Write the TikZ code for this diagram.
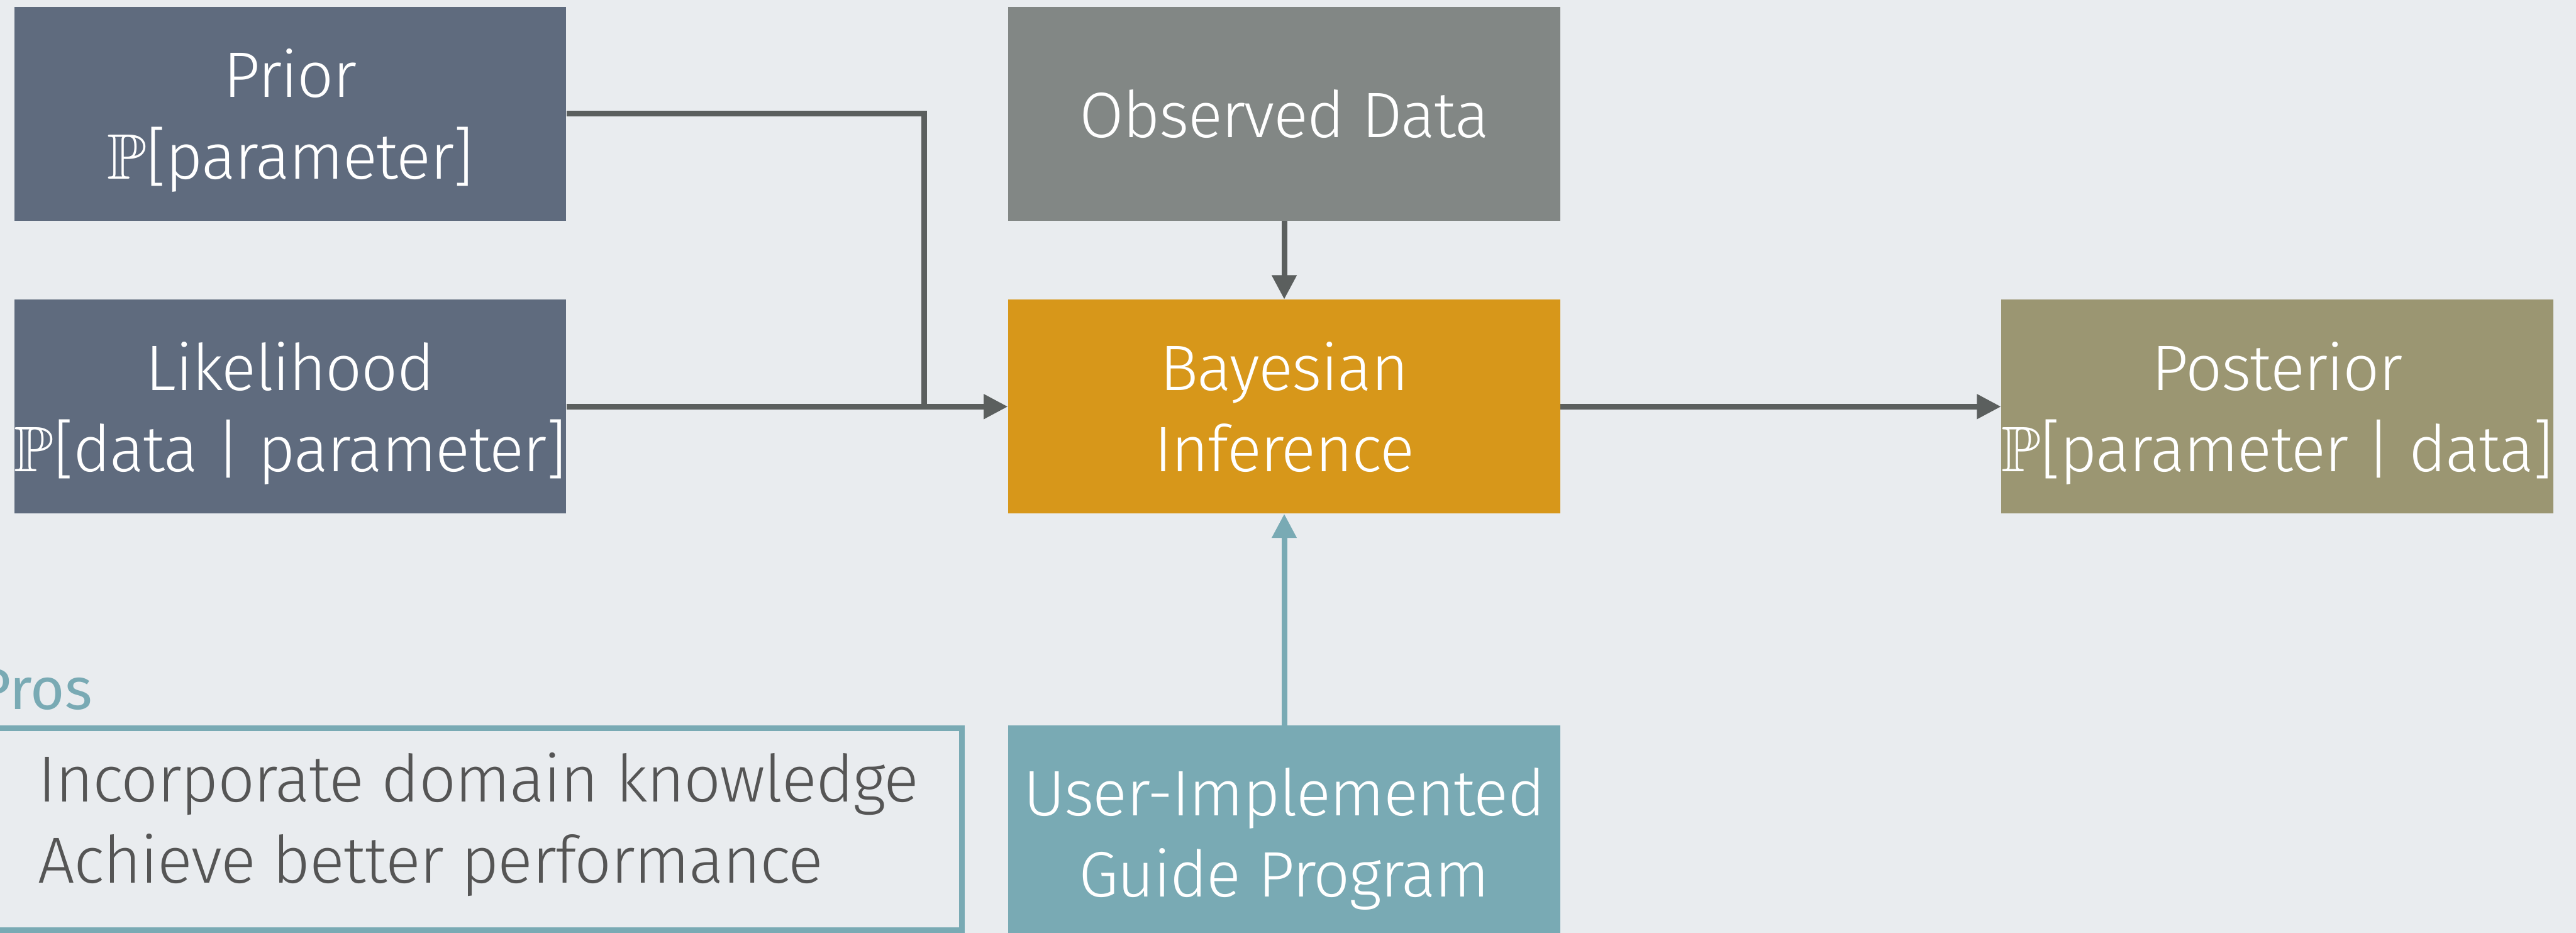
\documentclass[tikz,border=0pt]{standalone}
\usepackage{amsmath,amssymb}
\usepackage{fontspec}
\setmainfont{Fira Sans Light}[LetterSpace=-1.5]
\newfontfamily\prosfont{Fira Sans}
\usetikzlibrary{arrows.meta}

\definecolor{slate}{RGB}{95,107,126}
\definecolor{stone}{RGB}{130,135,133}
\definecolor{amber}{RGB}{215,151,26}
\definecolor{postcol}{RGB}{155,150,114}
\definecolor{guidecol}{RGB}{121,170,180}
\definecolor{wirecol}{RGB}{91,95,94}
\definecolor{paper}{RGB}{233,236,239}
\definecolor{ink}{RGB}{85,85,85}

\tikzset{
  block/.style={rectangle,minimum width=10.26cm,minimum height=3.97cm,inner sep=0pt,
    align=center,text=white,font=\fontsize{34}{43}\selectfont,text depth=0pt},
  item/.style={inner sep=0pt,text=ink,font=\fontsize{34.5}{43}\selectfont},
  wire/.style={line width=0.105cm,color=wirecol},
  flow/.style={wire,-{Triangle[length=0.45cm,width=0.44cm]}}
}

\begin{document}
\begin{tikzpicture}

\useasboundingbox (0,0) rectangle (47.88,-17.33);
\clip (0,0) rectangle (47.88,-17.33);
\fill[paper] (0,0) rectangle (47.88,-17.33);

\node[block,fill=slate] (prior) at ( 5.395,-2.115) {Prior\\$\mathbb{P}$[parameter]};
\node[block,fill=slate] (likelihood) at ( 5.395,-7.555) {Likelihood\\$\mathbb{P}$[data | parameter]};
\node[block,fill=stone] (observed) at (23.87,-2.115) {Observed Data};
\node[block,fill=amber] (bayes) at (23.87,-7.555) {Bayesian\\Inference};
\node[block,fill=postcol] (posterior) at (42.33,-7.555) {Posterior\\$\mathbb{P}$[parameter | data]};
\node[block,fill=guidecol] (guide) at (23.87,-15.465) {User-Implemented\\Guide Program};

\coordinate (join) at (17.18,-7.555);
\draw[wire] (prior.east) -| (join);
\draw[flow] (likelihood.east) -- (bayes.west);
\draw[flow] (observed.south) -- (bayes.north);
\draw[flow] (bayes.east) -- (posterior.west);
\draw[flow,guidecol] (guide.north) -- (bayes.south);

% pros panel
\node[draw=guidecol,line width=0.105cm,minimum width=18.38cm,minimum height=3.75cm,
  inner sep=0pt] (prosbox) at (8.69,-15.405) {};
\node[inner sep=0pt,anchor=base east,text=guidecol,font=\prosfont\fontsize{31}{38}\selectfont]
  (proslabel) at (1.72,-13.18) {Pros};
\foreach \txt [count=\i] in {Incorporate domain knowledge,Achieve better performance}
  {\node[item,anchor=base west] (item\i) at (0.70,{-14.90-1.51*(\i-1)}) {\txt};}

\end{tikzpicture}
\end{document}
